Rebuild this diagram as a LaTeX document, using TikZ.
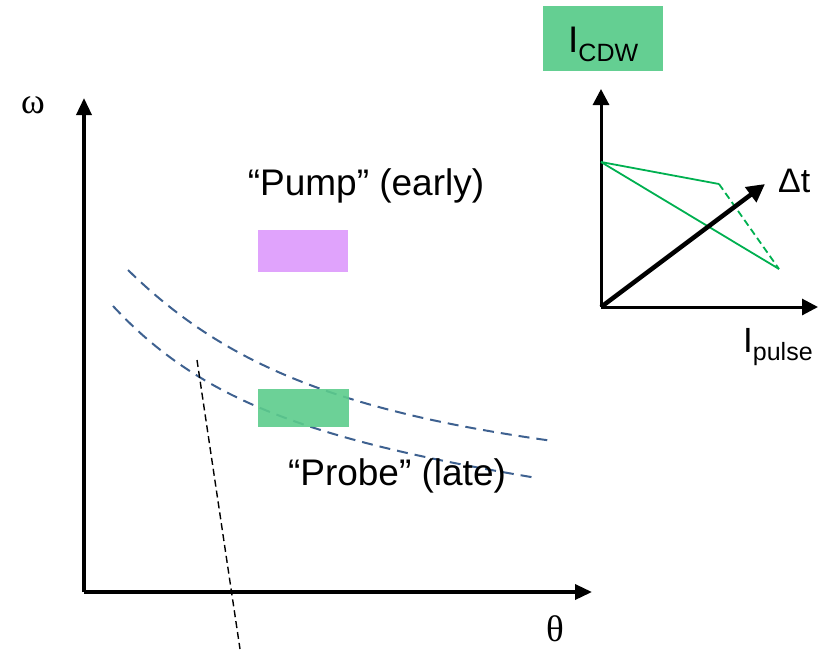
\documentclass[tikz,border=0pt]{standalone}
\usepackage{fontspec}
\setmainfont{Liberation Sans}
\newfontfamily\serifgr{Liberation Serif}
\usetikzlibrary{arrows.meta}
\definecolor{pinkbox}{HTML}{E0A3FC}
\definecolor{greenbox}{HTML}{5CCC8C}
\definecolor{curveblue}{HTML}{3E6190}
\definecolor{linegreen}{HTML}{00B050}
\tikzset{
  mainaxis/.style={line width=3.5pt, -{Triangle[length=17pt,width=15pt]}},
  insetaxis/.style={line width=3pt, -{Triangle[length=16pt,width=16pt]}},
  dtarrow/.style={line width=4.5pt, -{Triangle[length=18pt,width=18pt]}},
  bluedash/.style={curveblue, line width=2pt, dash pattern=on 11pt off 7pt},
  blackdash/.style={black, line width=1.4pt, dash pattern=on 7pt off 4pt},
  glin/.style={linegreen, line width=1.8pt},
  lbl/.style={inner sep=0pt, anchor=base},
}
\begin{document}
\begin{tikzpicture}[x=1pt,y=-1pt]
\useasboundingbox (0,0) rectangle (827,649);
% main axes
\coordinate (O) at (84,592);
\coordinate (ytop) at (84,98);
\coordinate (xend) at (592,592);
\draw[mainaxis] (O) -- (ytop);
\draw[mainaxis] (O) -- (xend);
\node[lbl] (omega) at (33,113) {\serifgr\fontsize{36}{36}\selectfont ω};
\node[lbl] (theta) at (555,641) {\serifgr\fontsize{37}{37}\selectfont θ};
% dashed curves
\draw[bluedash] (128,270) .. controls (220,360) and (330,410) .. (553,441);
\draw[bluedash] (113,306) .. controls (200,400) and (310,440) .. (537,478);
\draw[blackdash] (197,360) -- (240,649);
% boxes and texts
\node[lbl] (pumptxt) at (366,195) {\fontsize{37}{37}\selectfont “Pump” (early)};
\node[fill=pinkbox, minimum width=90pt, minimum height=42pt, inner sep=0pt] (pump) at (303,251) {};
\node[fill=greenbox, fill opacity=0.9, minimum width=91pt, minimum height=38pt, inner sep=0pt] (probe) at (303.5,408) {};
\node[lbl] (probetxt) at (397,485) {\fontsize{37}{37}\selectfont “Probe” (late)};
% inset
\node[fill=greenbox, fill opacity=0.95, minimum width=120pt, minimum height=65pt, inner sep=0pt] (cdwbox) at (603,38.5) {};
\node[lbl, anchor=base west] (cdw) at (568,52) {\fontsize{37}{37}\selectfont I\raisebox{-9pt}{\fontsize{25}{25}\selectfont CDW}};
\coordinate (iO) at (601,307);
\coordinate (itop) at (601,89);
\coordinate (iright) at (818,307);
\coordinate (dtend) at (765,184);
\draw[insetaxis] (iO) -- (itop);
\draw[insetaxis] (iO) -- (iright);
\coordinate (g0) at (601,162);
\coordinate (g1) at (719,184);
\coordinate (g2) at (779,269);
\draw[glin] (g0) -- (g1);
\draw[glin, dash pattern=on 7pt off 4pt] (g1) -- (g2);
\draw[glin] (g0) -- (g2);
\draw[dtarrow] (iO) -- (dtend);
\node[lbl, anchor=base west] (dt) at (778,192) {\fontsize{34}{34}\selectfont Δt};
\node[lbl, anchor=base west] (ipulse) at (743,352) {\fontsize{35}{35}\selectfont I\raisebox{-8pt}{\fontsize{25}{25}\selectfont pulse}};
\end{tikzpicture}
\end{document}
